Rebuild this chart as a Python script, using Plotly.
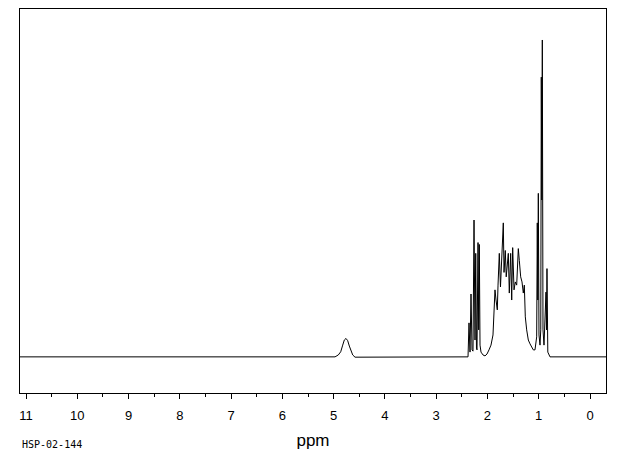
import plotly.graph_objects as go

# Chemical shift (ppm) and relative intensity
ppm = [11.117, 4.973, 4.909, 4.862, 4.823, 4.792, 4.759, 4.726, 4.694, 4.661, 4.628, 4.583,
       2.535, 2.379, 2.360, 2.340, 2.321, 2.301, 2.282, 2.262, 2.243, 2.229, 2.214, 2.204,
       2.184, 2.171, 2.159, 2.145, 2.126, 2.087, 2.048, 2.009, 1.970, 1.931, 1.892, 1.863,
       1.853, 1.833, 1.808, 1.794, 1.769, 1.746, 1.726, 1.691, 1.677, 1.652, 1.634, 1.613,
       1.593, 1.574, 1.547, 1.527, 1.508, 1.482, 1.457, 1.430, 1.398, 1.379, 1.352, 1.326,
       1.301, 1.281, 1.262, 1.235, 1.203, 1.170, 1.137, 1.106, 1.073, 1.040, 1.028, 1.018,
       1.008, 0.995, 0.975, 0.960, 0.950, 0.940, 0.930, 0.917, 0.897, 0.882, 0.858, 0.848,
       0.839, 0.823, 0.800, 0.780, -0.312]
intensity = [0.2, 0.2, 0.8, 1.8, 3.9, 5.5, 6.0, 5.3, 3.6, 1.8, 0.8, 0.1,
             0.2, 0.2, 10.9, 1.7, 20.0, 2.4, 2.0, 43.3, 5.5, 32.8, 3.0, 2.4,
             36.2, 8.7, 35.6, 3.9, 1.7, 0.8, 0.5, 1.1, 2.4, 3.9, 7.1, 15.0,
             21.3, 18.1, 15.0, 22.8, 32.8, 22.2, 30.6, 42.4, 26.8, 33.7, 25.4, 29.6,
             32.8, 20.3, 32.8, 18.1, 34.6, 21.3, 23.8, 22.8, 34.3, 30.6, 25.4, 23.8,
             20.3, 22.8, 12.8, 8.7, 5.5, 4.3, 3.3, 2.4, 2.4, 6.5, 42.4, 18.1,
             51.7, 7.1, 3.9, 8.7, 88.3, 49.6, 100.0, 8.7, 3.9, 11.8, 20.6, 8.7,
             28.0, 1.7, 0.5, 0.2, 0.2]

tick_vals = list(range(0, 12))
tick_text = [str(v) for v in tick_vals]

fig = go.Figure(go.Scatter(x=ppm, y=intensity, mode="lines",
                           line=dict(color="black", width=1), hoverinfo="skip"))

# page body has an 8px default margin, so the figure is sized to fit the window
fig.update_layout(
    width=612, height=447,
    margin=dict(l=12, r=14, t=1, b=62, autoexpand=False),
    paper_bgcolor="white", plot_bgcolor="white",
    showlegend=False,
    xaxis=dict(
        range=[11.117, -0.312], tickvals=tick_vals, ticktext=tick_text,
        showgrid=False, zeroline=False,
        showline=True, linecolor="black", linewidth=1, mirror=True,
        ticks="outside", ticklen=5, tickwidth=1, tickcolor="black",
        minor=dict(dtick=0.5, tick0=0, ticks="outside", ticklen=3, tickcolor="black", tickwidth=1),
        tickfont=dict(family="Liberation Sans", size=13, color="black"),
        ticklabelstandoff=5,
        title=dict(text="ppm", font=dict(family="Liberation Sans", size=17, color="black"), standoff=12),
    ),
    yaxis=dict(
        range=[-11.18, 109.76], showticklabels=False, ticks="",
        showgrid=False, zeroline=False,
        showline=True, linecolor="black", linewidth=1, mirror=True,
    ),
    annotations=[dict(text="HSP-02-144", xref="paper", yref="paper", x=0, y=-0.135,
                      xanchor="left", yanchor="middle", showarrow=False,
                      font=dict(family="DejaVu Sans Mono", size=10, color="black"))],
)

fig.write_html("out.html")
